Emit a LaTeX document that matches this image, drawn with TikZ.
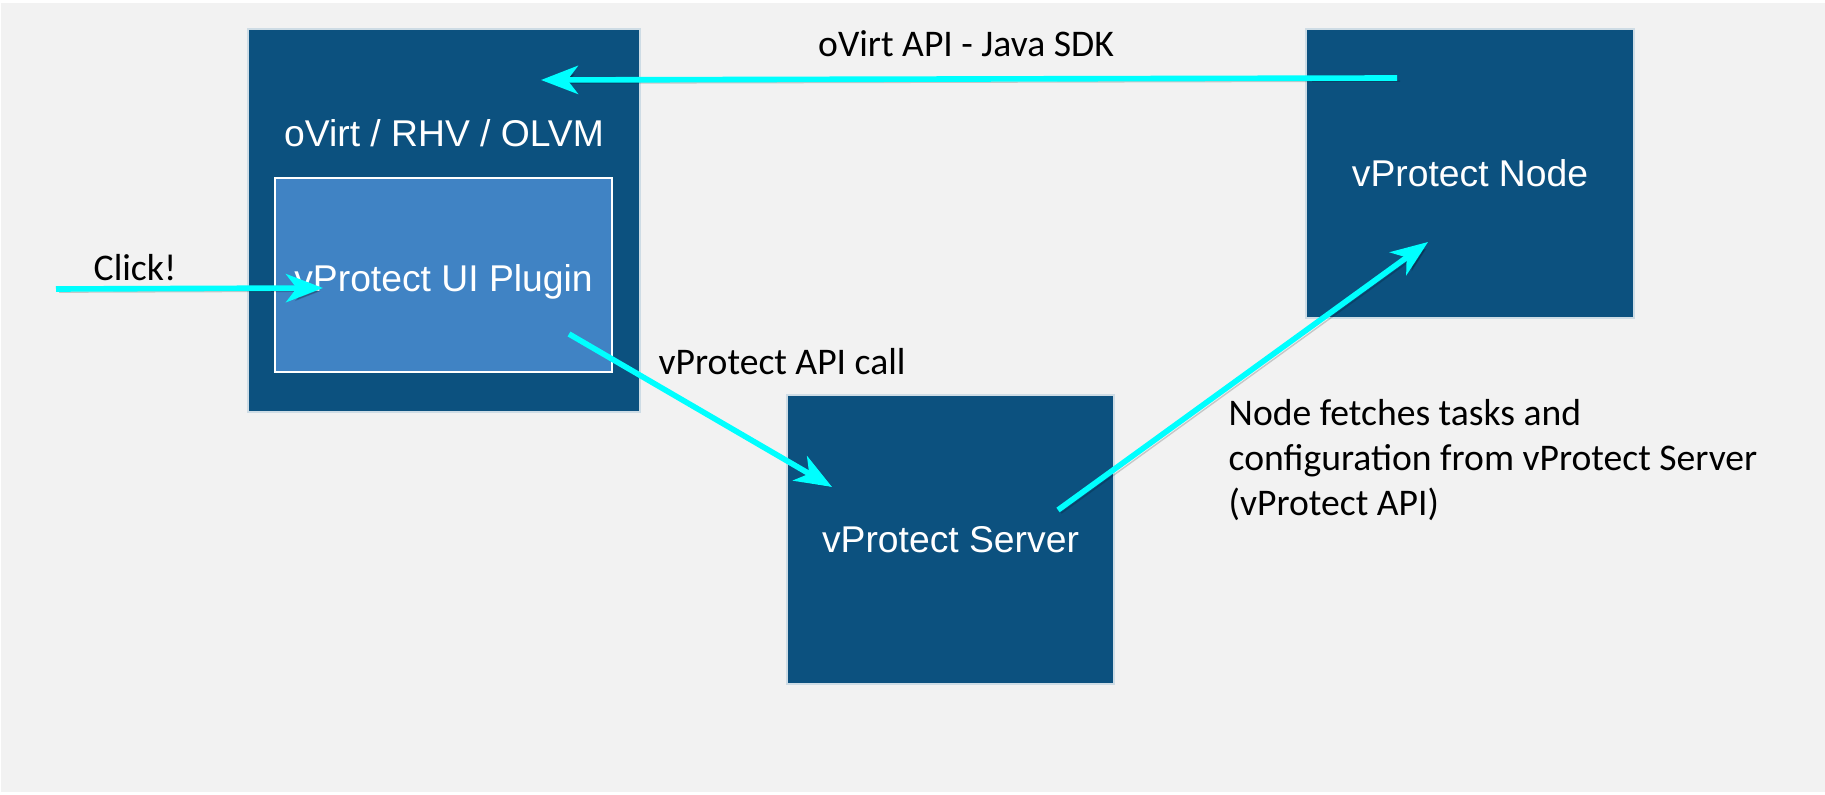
\documentclass[tikz,border=0pt]{standalone}
\usepackage{fontspec}
\setmainfont{Carlito}
\newfontfamily\boxfont{Liberation Sans}
\definecolor{boxblue}{RGB}{12,81,127}
\definecolor{plugblue}{RGB}{64,131,196}
\definecolor{arrowcyan}{RGB}{0,255,255}
\definecolor{panelgrey}{RGB}{242,242,242}
\usetikzlibrary{arrows.meta}

\begin{document}
\begin{tikzpicture}[x=0.01cm, y=-0.01cm,
    darkbox/.style={fill=boxblue, draw=white!80!boxblue, line width=0.4pt, inner sep=0pt,
        text=white, font=\boxfont\fontsize{10.6}{13}\selectfont},
    boxtext/.style={text=white, inner sep=0pt, font=\boxfont\fontsize{10.6}{13}\selectfont},
    flow/.style={arrowcyan, line width=1.6pt, -{Stealth[length=10.5pt, width=8pt, inset=3pt]},
        preaction={draw=black, opacity=0.18, transform canvas={shift={(0.9pt,-0.9pt)}}}},
    note/.style={inner sep=0pt, font=\fontsize{10.7}{12.8}\selectfont}]

    % Fondo
    \fill[white] (0,0) rectangle (1825,795);
    \fill[panelgrey] (1,3) rectangle (1825,792);
    \useasboundingbox (0,0) rectangle (1825,795);

    % Cajas
    \node[darkbox, minimum width=3.92cm, minimum height=3.83cm] (ovirt) at (444,220.5) {};
    \node[boxtext] (ovirtname) at (444,133) {oVirt / RHV / OLVM};
    \node[darkbox, fill=plugblue, draw=white, line width=0.7pt, text height=9.6pt, text depth=0pt,
        minimum width=3.37cm, minimum height=1.94cm] (plugin) at (443.5,275) {vProtect UI Plugin};
    \node[darkbox, minimum width=3.27cm, minimum height=2.89cm] (server) at (950.5,539.5) {vProtect Server};
    \node[darkbox, minimum width=3.28cm, minimum height=2.89cm] (vpnode) at (1470,173.5) {vProtect Node};

    % Puntos de las flechas
    \coordinate (clickstart) at (56,289);
    \coordinate (clickend) at (323,288);
    \coordinate (sdkstart) at (1397,78);
    \coordinate (sdkend) at (541,80);
    \coordinate (callstart) at (569,334);
    \coordinate (callend) at (832,487);
    \coordinate (fetchstart) at (1058,510);
    \coordinate (fetchend) at (1428,242);

    % Flechas
    \draw[flow] (clickstart) -- (clickend);
    \draw[flow] (sdkstart) -- (sdkend);
    \draw[flow] (callstart) -- (callend);
    \draw[flow] (fetchstart) -- (fetchend);

    % Etiquetas
    \node[note] (clicklabel) at (135,268) {Click!};
    \node[note] (sdklabel) at (966,44) {oVirt API - Java SDK};
    \node[note, anchor=west] (calllabel) at (658,362) {vProtect API call};
    \node[note, anchor=west, align=left] (fetchlabel) at (1228,460)
        {Node fetches tasks and\\configuration from vProtect Server\\(vProtect API)};
\end{tikzpicture}
\end{document}
